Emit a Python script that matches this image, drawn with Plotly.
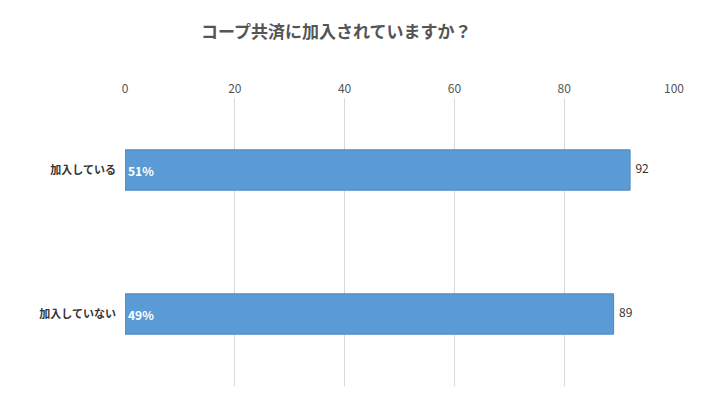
import plotly.graph_objects as go

categories = ["加入している", "加入していない"]
values = [92, 89]
percents = ["51%", "49%"]
ticks = [0, 20, 40, 60, 80, 100]

fig = go.Figure()
fig.add_trace(go.Bar(
    y=categories, x=values, orientation="h",
    marker=dict(color="#5B9BD5", line=dict(color="#4A86C0", width=1)),
    width=0.28,
    text=["<b>%s</b>" % p for p in percents], textposition="inside", insidetextanchor="start",
    textfont=dict(color="white", size=12, family="Noto Sans CJK JP"),
    hoverinfo="skip",
))
fig.add_trace(go.Scatter(
    y=categories, x=values, mode="text",
    text=["  " + str(v) for v in values], textposition="middle right",
    textfont=dict(color="#333333", size=12, family="Noto Sans CJK JP"),
    hoverinfo="skip",
))
fig.update_layout(
    width=706, height=406,
    margin=dict(l=117, r=40, t=90, b=28),
    paper_bgcolor="white", plot_bgcolor="white",
    showlegend=False,
    title=dict(text="<b>コープ共済に加入されていますか？</b>", x=0.465, y=0.955,
               xanchor="center", font=dict(size=17, color="#555555", family="Noto Sans CJK JP")),
    font=dict(family="Noto Sans CJK JP", color="#333333"),
    xaxis=dict(range=[0, 100], tickvals=ticks, side="top", showgrid=True,
               gridcolor="#D9D9D9", zeroline=False, showline=False, automargin=False,
               tickfont=dict(size=12, color="#555555"), ticklabelstandoff=2, fixedrange=True),
    yaxis=dict(autorange="reversed", showgrid=False, showline=False, automargin=False,
               tickvals=categories, ticktext=["<b>%s</b>" % c for c in categories],
               tickfont=dict(size=11, color="#333333"), ticklabelstandoff=8),
)
fig.write_html("out.html")
